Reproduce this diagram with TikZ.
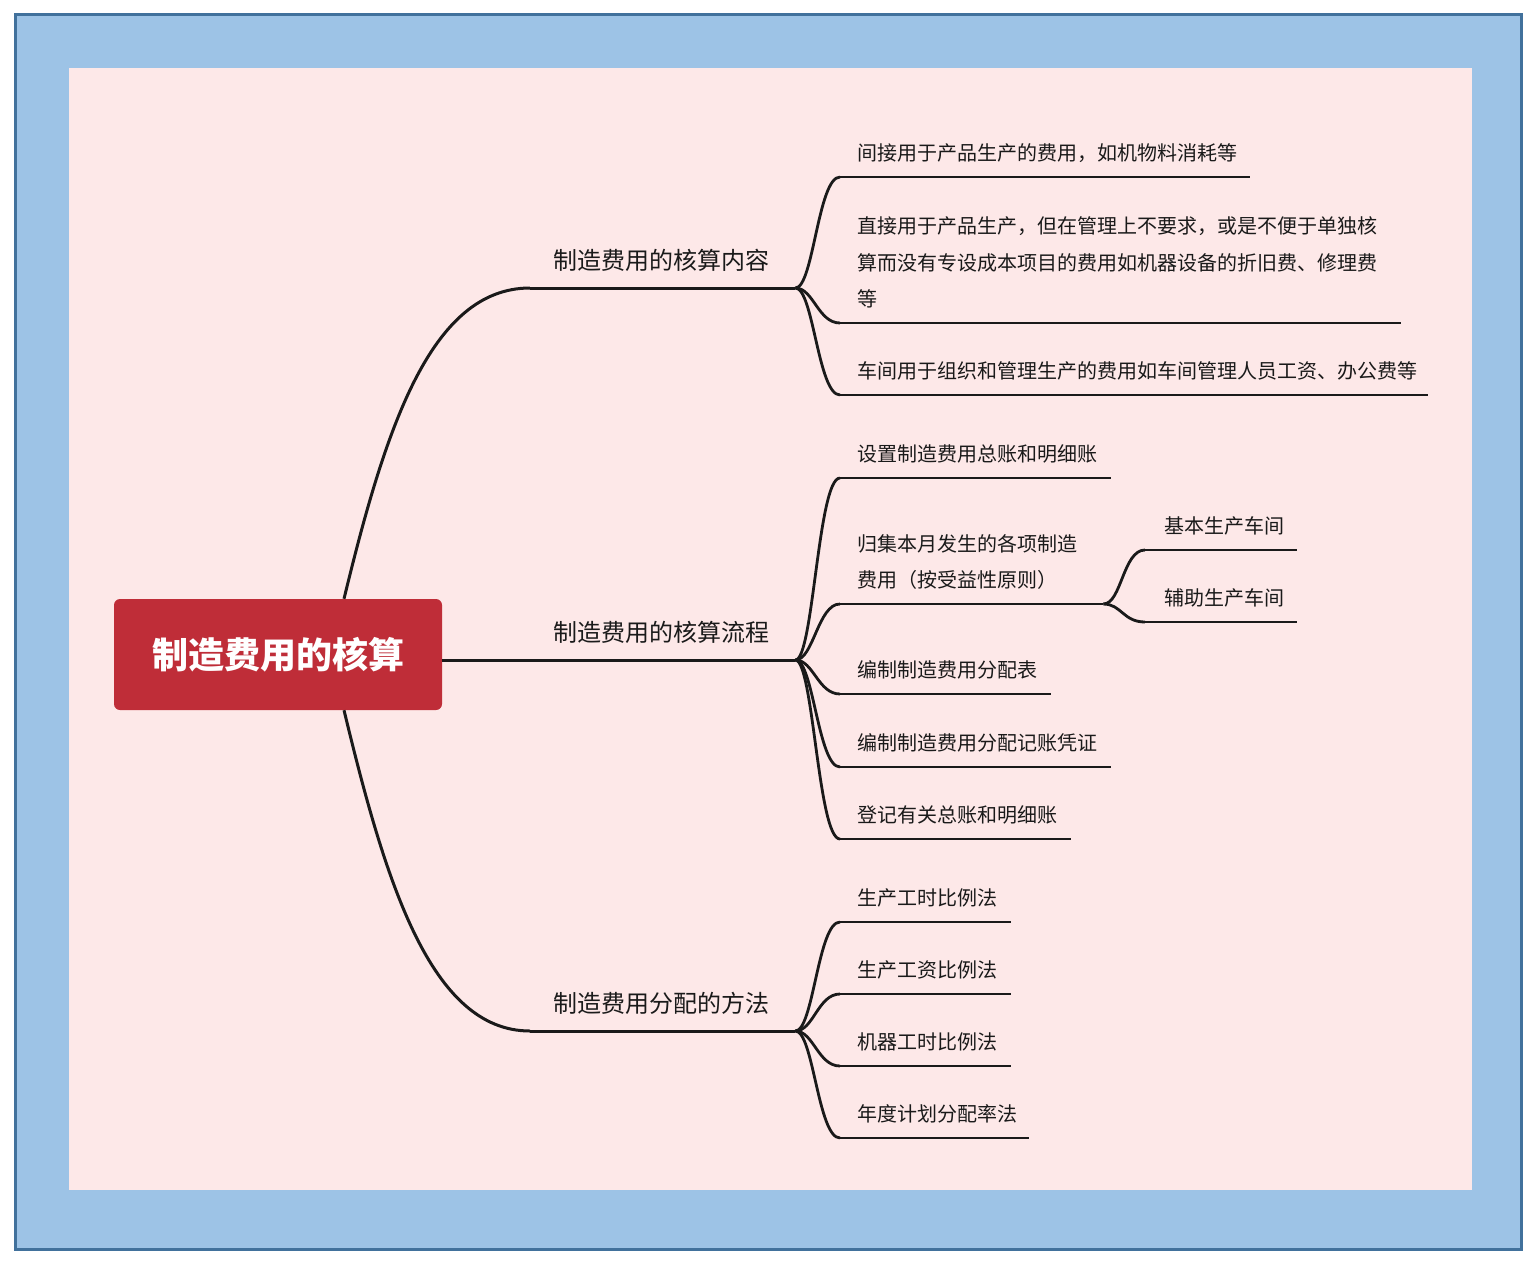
\documentclass[tikz,border=0pt]{standalone}
\usepackage{fontspec}
\setmainfont{Noto Sans CJK SC}
\usepackage{xcolor}
\usetikzlibrary{positioning}

\definecolor{framefill}{HTML}{9DC3E6}
\definecolor{framedraw}{HTML}{41719C}
\definecolor{paper}{HTML}{FDE8E8}
\definecolor{rootred}{HTML}{BF2D38}
\definecolor{ink}{HTML}{1A1A1A}

\begin{document}
\begin{tikzpicture}[
    x=1pt, y=-1pt,
    root/.style={rectangle, rounded corners=6pt, fill=rootred, text=white, minimum width=328pt, minimum height=111pt, font=\fontsize{36}{40}\selectfont\bfseries},
    cat/.style={anchor=south west, inner xsep=23pt, inner ysep=0pt, text depth=18pt, text width=#1, align=left, font=\fontsize{24}{30}\selectfont, text=ink},
    leaf/.style={anchor=south west, inner xsep=17pt, inner ysep=0pt, text depth=16pt, text width=#1, align=left, font=\fontsize{20}{36.5}\selectfont, text=ink},
    branch/.style={draw=ink, line width=3pt},
    twig/.style={draw=ink, line width=2.8pt}
]
\useasboundingbox (0,0) rectangle (1540,1264);

% Frame
\draw[fill=framefill, draw=framedraw, line width=3pt] (15,14) rectangle (1521,1249);
\fill[paper] (69,68) rectangle (1472,1190);

% Nodes
\node[root] (root) at (278,654.5) {制造费用的核算};

\node[cat=219pt] (content) at (530,288) {制造费用的核算内容};
\node[cat=219pt] (process) at (530,660) {制造费用的核算流程};
\node[cat=219pt] (method) at (530,1031) {制造费用分配的方法};

\node[leaf=376pt] (c1) at (840,177) {间接用于产品生产的费用，如机物料消耗等};
\node[leaf=527pt, text depth=89pt] (c2) at (840,323) {直接用于产品生产，但在管理上不要求，或是不便于单独核\\算而没有专设成本项目的费用如机器设备的折旧费、修理费\\等};
\node[leaf=554pt] (c3) at (840,395) {车间用于组织和管理生产的费用如车间管理人员工资、办公费等};

\node[leaf=237pt] (p1) at (840,478) {设置制造费用总账和明细账};
\node[leaf=229pt, text depth=52.5pt] (p2) at (840,604) {归集本月发生的各项制造\\费用（按受益性原则）};
\node[leaf=177pt] (p3) at (840,694) {编制制造费用分配表};
\node[leaf=237pt] (p4) at (840,767) {编制制造费用分配记账凭证};
\node[leaf=197pt] (p5) at (840,839) {登记有关总账和明细账};

\node[leaf=114pt, inner xsep=19pt] (s1) at (1145,550) {基本生产车间};
\node[leaf=114pt, inner xsep=19pt] (s2) at (1145,622) {辅助生产车间};

\node[leaf=137pt] (m1) at (840,922) {生产工时比例法};
\node[leaf=137pt] (m2) at (840,994) {生产工资比例法};
\node[leaf=137pt] (m3) at (840,1066) {机器工时比例法};
\node[leaf=155pt] (m4) at (840,1138) {年度计划分配率法};

% Links
\draw[branch] ([xshift=66pt]root.north) .. controls (385,430) and (430,288) .. (content.south west);
\draw[branch] (root.east |- process.south west) -- (process.south west);
\draw[branch] ([xshift=66pt]root.south) .. controls (385,880) and (430,1031) .. (method.south west);
\foreach \n in {content,process,method}
    \draw[branch] (\n.south west) -- (\n.south east);

\foreach \n in {c1,c2,c3}
    \draw[twig] (content.south east) .. controls +(18,0) and +(-22,0) .. (\n.south west);
\foreach \n in {p1,p2,p3,p4,p5}
    \draw[twig] (process.south east) .. controls +(18,0) and +(-22,0) .. (\n.south west);
\foreach \n in {m1,m2,m3,m4}
    \draw[twig] (method.south east) .. controls +(18,0) and +(-22,0) .. (\n.south west);
\foreach \n in {s1,s2}
    \draw[twig] (p2.south east) .. controls +(18,0) and +(-22,0) .. (\n.south west);

\foreach \n in {c1,c2,c3,p1,p2,p3,p4,p5,s1,s2,m1,m2,m3,m4}
    \draw[twig] (\n.south west) -- (\n.south east);

\end{tikzpicture}
\end{document}
